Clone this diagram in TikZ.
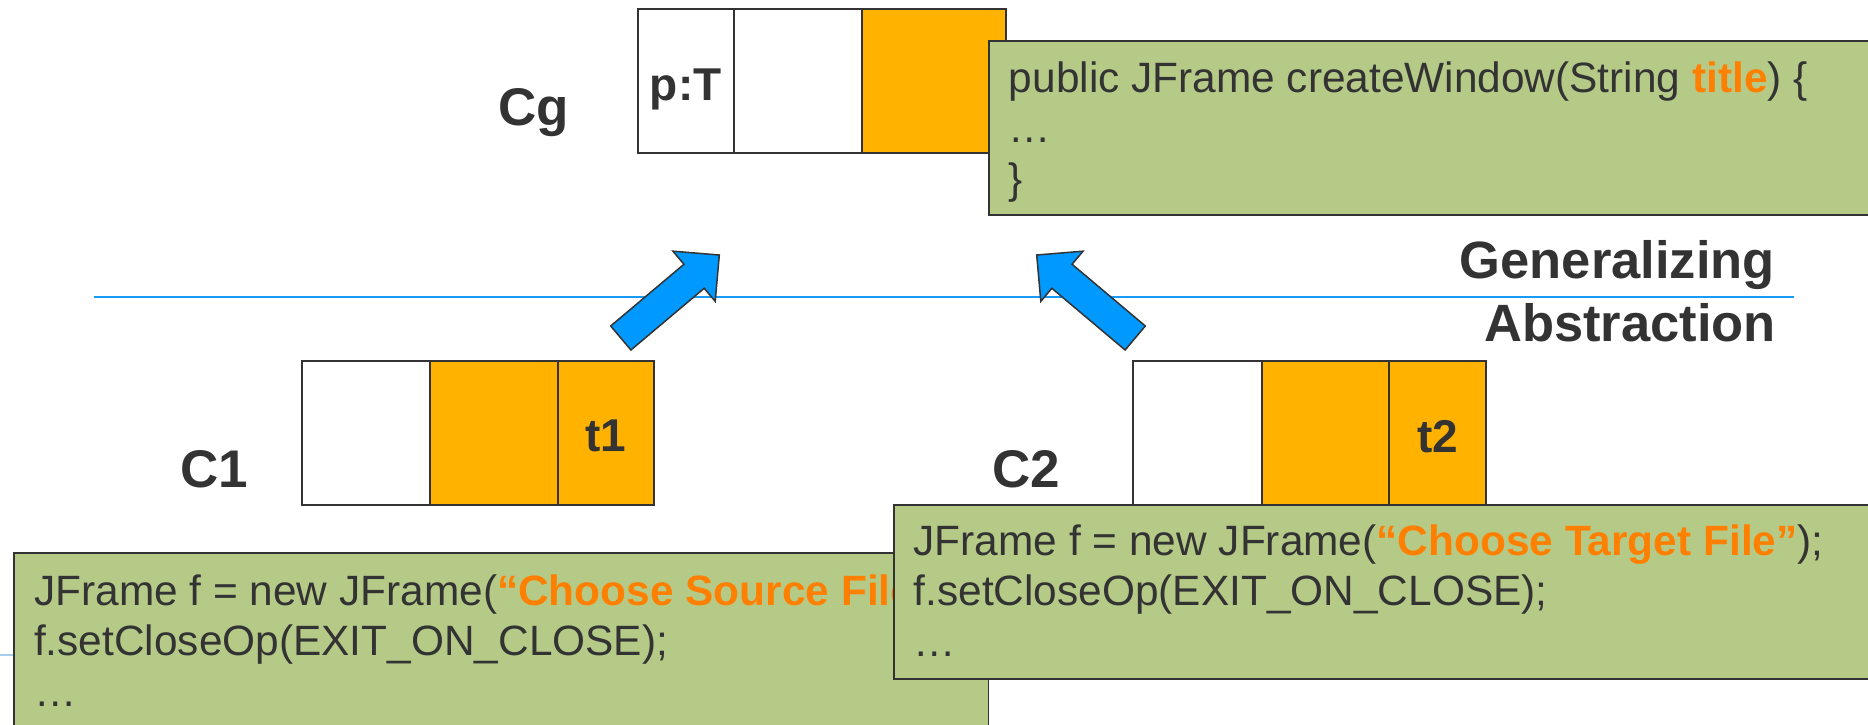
\documentclass[tikz,border=0pt]{standalone}
\usepackage{fontspec}
\setmainfont{Liberation Sans}
\usetikzlibrary{calc}

\definecolor{ink}{RGB}{51,51,51}
\definecolor{amber}{RGB}{255,179,0}
\definecolor{sage}{RGB}{182,202,136}
\definecolor{hilite}{RGB}{255,128,0}
\definecolor{arrowblue}{RGB}{0,153,255}
\definecolor{ruleblue}{RGB}{25,155,245}
\definecolor{paleblue}{RGB}{165,205,238}

\tikzset{
  cell/.style={draw=ink, line width=1.8pt, inner sep=0pt, outer sep=0pt,
    anchor=north west, minimum height=144pt},
  blankcell/.style={cell, fill=white},
  fullcell/.style={cell, fill=amber},
  codebox/.style={draw=ink, line width=1.8pt, fill=sage, inner sep=0pt,
    outer sep=0pt, anchor=north west},
  codeline/.style={anchor=base west, inner sep=0pt, text=ink,
    font=\fontsize{42.4}{50}\selectfont},
  cellname/.style={anchor=base, inner sep=0pt, text=ink,
    font=\bfseries\fontsize{46}{55}\selectfont},
  recname/.style={anchor=base west, inner sep=0pt, text=ink,
    font=\bfseries\fontsize{53}{63}\selectfont},
  headline/.style={anchor=base east, inner sep=0pt, text=ink,
    font=\bfseries\fontsize{52.5}{62}\selectfont},
  fatarrow/.style={fill=arrowblue, draw=ink, line width=1.5pt, line join=miter},
}

% Block arrow from tail coordinate #1 to tip coordinate #2:
% shaft 31.4 wide, head 65.6 wide and 33 long.
\newcommand{\fatarrowpath}[2]{%
  \coordinate (#1-neck) at ($(#2)!33pt!(#1)$);
  \draw[fatarrow]
    ($(#1)!15.7pt!90:(#2)$) -- ($(#1-neck)!15.7pt!90:(#2)$)
    -- ($(#1-neck)!32.8pt!90:(#2)$) -- (#2)
    -- ($(#1-neck)!32.8pt!-90:(#2)$) -- ($(#1-neck)!15.7pt!-90:(#2)$)
    -- ($(#1)!15.7pt!-90:(#2)$) -- cycle;
}

\begin{document}
\begin{tikzpicture}[x=1pt, y=-1pt]
  \clip (0,0) rectangle (1868,725);
  \fill[white] (0,0) rectangle (1868,725);

  % faint guide line partly hidden by the lower code box
  \coordinate (guideL) at (0,655);
  \coordinate (guideR) at (80,655);
  \draw[paleblue, line width=2pt] (guideL) -- (guideR);

  % abstraction level separator
  \coordinate (ruleL) at (94,297);
  \coordinate (ruleR) at (1794,297);
  \draw[ruleblue, line width=2.2pt] (ruleL) -- (ruleR);

  \node[headline] (gen) at (1775,278) {Generalizing};
  \node[headline] (abs) at (1776,341.7) {Abstraction};

  % generalization arrows
  \coordinate (tailA) at (620.8,338);
  \coordinate (tipA) at (719.3,255);
  \coordinate (tailB) at (1135.2,338);
  \coordinate (tipB) at (1036.7,255);
  \fatarrowpath{tailA}{tipA}
  \fatarrowpath{tailB}{tipB}

  % generalized record Cg
  \node[blankcell, minimum width=96pt] (cg1) at (637.7,9) {};
  \node[blankcell, minimum width=128.3pt] (cg2) at (cg1.north east) {};
  \node[fullcell, minimum width=143.7pt] (cg3) at (cg2.north east) {};
  \node[cellname] (lp) at ($(cg1.center)+(0,19)$) {p:T};
  \node[recname] (ncg) at (498.5,125) {Cg};

  \node[codebox, minimum width=900pt, minimum height=174pt] (boxg) at (989,41) {};
  \node[codeline] (g1) at (1008.7,92.3)
    {public JFrame createWindow(String \textcolor{hilite}{\bfseries title}) \{};
  \node[codeline] (g2) at (1008.7,142.5) {…};
  \node[codeline] (g3) at (1008.7,193.5) {\}};

  % concrete record C1
  \node[blankcell, minimum width=128.1pt] (c1a) at (301.7,360.7) {};
  \node[fullcell, minimum width=128.2pt] (c1b) at (c1a.north east) {};
  \node[fullcell, minimum width=96.2pt] (c1c) at (c1b.north east) {};
  \node[cellname] (lt1) at ($(c1c.center)+(0,19)$) {t1};
  \node[recname] (nc1) at (180.5,487) {C1};

  % concrete record C2
  \node[blankcell, minimum width=128.4pt] (c2a) at (1133.3,361) {};
  \node[fullcell, minimum width=127.6pt] (c2b) at (c2a.north east) {};
  \node[fullcell, minimum width=96.3pt] (c2c) at (c2b.north east) {};
  \node[cellname] (lt2) at ($(c2c.center)+(0,19)$) {t2};
  \node[recname] (nc2) at (992,487.3) {C2};

  % code of C1
  \node[codebox, minimum width=974.5pt, minimum height=200pt] (box1) at (14,552.7) {};
  \node[codeline] (s1) at (34,605)
    {JFrame f = new JFrame(\textcolor{hilite}{\bfseries “Choose Source File”});};
  \node[codeline] (s2) at (34,655.5) {f.setCloseOp(EXIT\_ON\_CLOSE);};
  \node[codeline] (s3) at (34,706) {…};

  % code of C2
  \node[codebox, minimum width=1000pt, minimum height=174.3pt] (box2) at (894,505) {};
  \node[codeline] (r1) at (913.5,555)
    {JFrame f = new JFrame(\textcolor{hilite}{\bfseries “Choose Target File”});};
  \node[codeline] (r2) at (913.5,605.5) {f.setCloseOp(EXIT\_ON\_CLOSE);};
  \node[codeline] (r3) at (913.5,656) {…};
\end{tikzpicture}
\end{document}
